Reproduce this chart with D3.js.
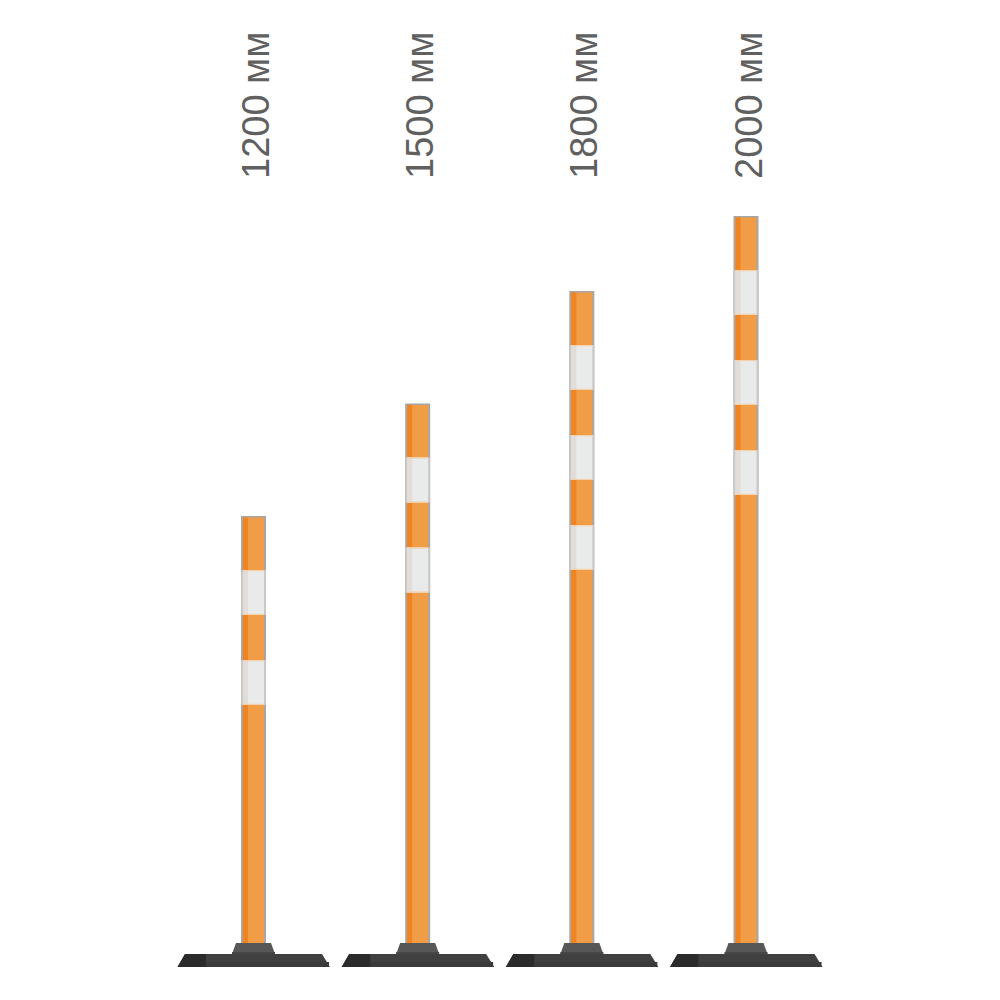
<!DOCTYPE html>
<html>
<head>
<meta charset="utf-8">
<script src="https://cdn.jsdelivr.net/npm/d3@7"></script>
<style>
  html, body { margin: 0; padding: 0; background: #fff; }
</style>
</head>
<body>
<div id="chart"></div>
<script>
// post heights, mm
const labels = ["1200 мм", "1500 мм", "1800 мм", "2000 мм"];
const heights = [1200, 1500, 1800, 2000];
// reflective white bands per post, counted from the top
const bandCounts = [2, 2, 3, 3];
const topOrange = 144; // mm of orange above first white band
const bandSize = 120;  // mm per band

const W = 1000, H = 1000;
const svg = d3.select("#chart").append("svg")
  .attr("width", W).attr("height", H);

const x = d3.scalePoint().domain(labels).range([253.5, 746]);
const y = d3.scaleLinear().domain([0, 2000]).range([966, 216]);

const postW = 25;
const postBottom = 943;

const posts = labels.map((l, i) => ({
  label: l, h: heights[i], bands: bandCounts[i], cx: x(l)
}));

const g = svg.selectAll("g.post").data(posts).join("g")
  .attr("class", "post")
  .attr("transform", d => `translate(${d.cx},0)`);

// pole: grey outline, orange body
g.append("rect")
  .attr("x", -postW / 2).attr("width", postW)
  .attr("y", d => y(d.h)).attr("height", d => postBottom - y(d.h))
  .attr("fill", "#a8a6a4");
g.append("rect")
  .attr("x", -postW / 2 + 2).attr("width", postW - 4)
  .attr("y", d => y(d.h) + 1.5).attr("height", d => postBottom - y(d.h) - 1.5)
  .attr("fill", "#f19c46");
g.append("rect")
  .attr("x", -postW / 2 + 2).attr("width", 5)
  .attr("y", d => y(d.h) + 1.5).attr("height", d => postBottom - y(d.h) - 1.5)
  .attr("fill", "#ef8420");

// white bands
g.each(function (d) {
  const bands = [];
  for (let k = 0; k < d.bands; k++) {
    bands.push(d.h - topOrange - k * 2 * bandSize);
  }
  const bg = d3.select(this).selectAll("g.band").data(bands).join("g").attr("class", "band");
  bg.append("rect")
    .attr("x", -postW / 2).attr("width", postW)
    .attr("y", b => y(b)).attr("height", b => y(b - bandSize) - y(b))
    .attr("fill", "#c9c8c7");
  bg.append("rect")
    .attr("x", -postW / 2 + 2).attr("width", postW - 4)
    .attr("y", b => y(b)).attr("height", b => y(b - bandSize) - y(b))
    .attr("fill", "#e9eaea");
  bg.append("rect")
    .attr("x", -postW / 2 + 2).attr("width", 5)
    .attr("y", b => y(b)).attr("height", b => y(b - bandSize) - y(b))
    .attr("fill", "#e2ddd8");
  bg.append("rect")
    .attr("x", -postW / 2 + 2).attr("width", postW - 4)
    .attr("y", b => y(b)).attr("height", 1.2)
    .attr("fill", "#f4d2ae");
  bg.append("rect")
    .attr("x", -postW / 2 + 2).attr("width", postW - 4)
    .attr("y", b => y(b - bandSize) - 1.2).attr("height", 1.2)
    .attr("fill", "#f4d2ae");
});

// rubber base
g.append("path")
  .attr("d", "M-76,967 L-68.5,954 L68.5,954 L76.5,967 Z")
  .attr("fill", "#404040");
g.append("path")
  .attr("d", "M-76,967 L-68.5,954 L-47.5,954 L-47.5,967 Z")
  .attr("fill", "#2b2b2b");
g.append("rect")
  .attr("x", -47.5).attr("width", 123).attr("y", 962).attr("height", 5)
  .attr("fill", "#3a3a3a");
g.append("path")
  .attr("d", "M-21.5,954 L-17.5,943 L17.5,943 L21.5,954 Z")
  .attr("fill", "#575757");
g.append("rect")
  .attr("x", -21.5).attr("width", 43).attr("y", 952).attr("height", 2)
  .attr("fill", "#474747");

// labels
g.append("text")
  .attr("transform", "translate(15.5,179) rotate(-90)")
  .attr("text-anchor", "start")
  .attr("font-family", "Liberation Sans, Arial, sans-serif")
  .attr("font-size", 38)
  .attr("fill", "#606060")
  .text(d => d.label);
</script>
</body>
</html>
